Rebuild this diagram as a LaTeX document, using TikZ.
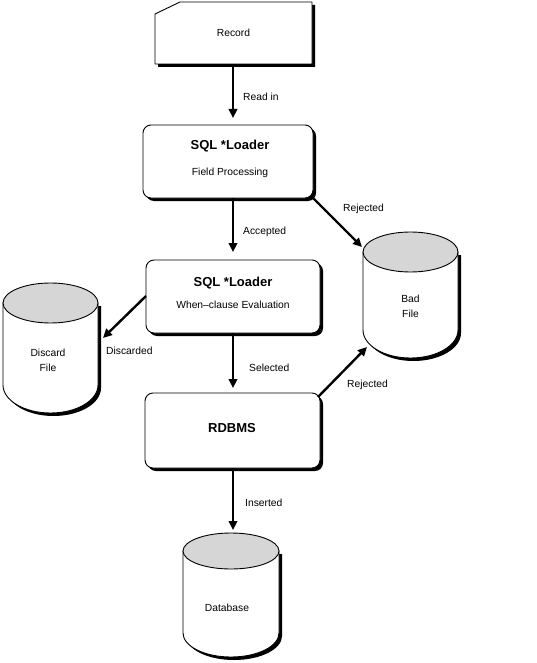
\documentclass[tikz,border=0pt]{standalone}
\usepackage{fontspec}
\setmainfont{Liberation Sans}
\usetikzlibrary{arrows.meta,shadows}
\definecolor{topgray}{RGB}{214,214,214}
\tikzset{
  lbl/.style={anchor=west,font=\fontsize{10.3}{12}\selectfont,inner sep=0pt},
  txt/.style={font=\fontsize{10.3}{12}\selectfont,inner sep=0pt},
  ttl/.style={font=\bfseries\fontsize{13}{15}\selectfont,inner sep=0pt},
  procbox/.style={draw=black,line width=0.9pt,fill=white,rounded corners=8pt,
    drop shadow={shadow xshift=3pt,shadow yshift=-3pt,opacity=1,fill=black}},
  flow/.style={line width=2.4pt,-{Triangle[length=9pt,width=8.5pt]}},
  outl/.style={draw=black,line width=0.9pt},
}
\begin{document}
\begin{tikzpicture}[x=1pt,y=-1pt]
\useasboundingbox (0,0) rectangle (536,663);
% ---------- Record card
\fill[black] (158,17) -- (183,5) -- (315,5) -- (315,67) -- (158,67) -- cycle;
\draw[outl,fill=white] (155,14) -- (180,2) -- (312,2) -- (312,64) -- (155,64) -- cycle;
\node[txt] (rec) at (233.5,33) {Record};
\coordinate (recS) at (233,64);
% ---------- boxes
\node[procbox,minimum width=170pt,minimum height=73pt] (b1) at (228,161.5) {};
\node[ttl] (b1t) at (230,146) {SQL *Loader};
\node[txt] (b1s) at (230,173) {Field Processing};
\node[procbox,minimum width=174pt,minimum height=73pt] (b2) at (233,296.5) {};
\node[ttl] (b2t) at (233,283) {SQL *Loader};
\node[txt] (b2s) at (233,305) {When--clause Evaluation};
\node[procbox,minimum width=175pt,minimum height=75pt] (b3) at (232.5,430.5) {};
\node[ttl] (b3t) at (232,428) {RDBMS};
% ---------- cylinders
% Bad file
\fill[black] (366,255) -- (366,333) arc[start angle=180,end angle=0,x radius=47.5,y radius=28] -- (461,255) -- cycle;
\draw[outl,fill=white] (363,252) -- (363,330) arc[start angle=180,end angle=0,x radius=47.5,y radius=28] -- (458,252) -- cycle;
\draw[outl,fill=topgray] (410.5,252) ellipse[x radius=47.5,y radius=20];
\node[txt,align=center] (bad) at (410.5,306) {Bad\\[3pt]File};
% Discard file
\fill[black] (6,306) -- (6,388) arc[start angle=180,end angle=0,x radius=47.5,y radius=28] -- (101,306) -- cycle;
\draw[outl,fill=white] (3,303) -- (3,385) arc[start angle=180,end angle=0,x radius=47.5,y radius=28] -- (98,303) -- cycle;
\draw[outl,fill=topgray] (50.5,303) ellipse[x radius=47.5,y radius=20];
\node[txt,align=center] (disc) at (48,360) {Discard\\[3pt]File};
% Database
\fill[black] (186,554) -- (186,636) arc[start angle=180,end angle=0,x radius=48,y radius=24] -- (282,554) -- cycle;
\draw[outl,fill=white] (183,551) -- (183,633) arc[start angle=180,end angle=0,x radius=48,y radius=24] -- (279,551) -- cycle;
\draw[outl,fill=topgray] (231,551) ellipse[x radius=48,y radius=18];
\node[txt] (db) at (227,608) {Database};
% ---------- connector end points
\coordinate (t1) at (233,118);
\coordinate (s1) at (233,198);
\coordinate (t2) at (233,252);
\coordinate (s2) at (233,333);
\coordinate (t3) at (233,388);
\coordinate (s3) at (233,468);
\coordinate (t4) at (233,530);
\coordinate (badA) at (362,247);
\coordinate (discA) at (103,338);
\coordinate (b2w) at (146,296);
\coordinate (b3ne) at (318,397);
\coordinate (badB) at (367,347);
% ---------- connectors
\draw[flow] (recS) -- (t1);
\draw[flow] (s1) -- (t2);
\draw[flow] (s2) -- (t3);
\draw[flow] (s3) -- (t4);
\draw[flow] (b1.south east) -- (badA);
\draw[flow] (b2w) -- (discA);
\draw[flow] (b3ne) -- (badB);
% ---------- labels
\node[lbl] (l1) at (243,97) {Read in};
\node[lbl] (l2) at (243,232) {Accepted};
\node[lbl] (l3) at (343,209) {Rejected};
\node[lbl] (l4) at (106,351) {Discarded};
\node[lbl] (l5) at (249,368) {Selected};
\node[lbl] (l6) at (347,385) {Rejected};
\node[lbl] (l7) at (245,503) {Inserted};
\end{tikzpicture}
\end{document}
